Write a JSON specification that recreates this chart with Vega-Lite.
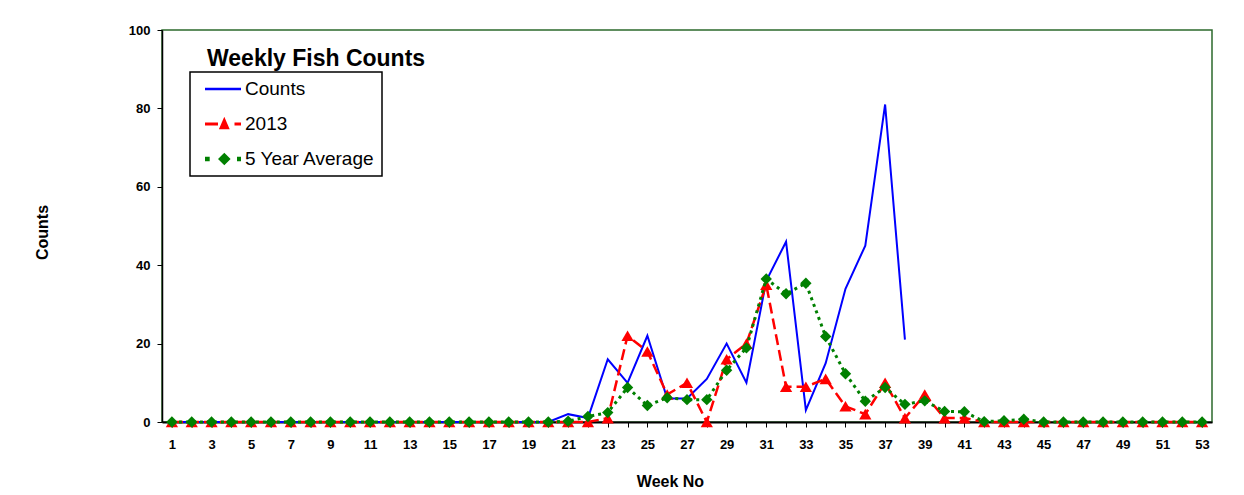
{
  "$schema": "https://vega.github.io/schema/vega-lite/v6.json",
  "width": 1050,
  "height": 392,
  "autosize": {"type": "none"},
  "padding": {"left": 162, "top": 30, "right": 32, "bottom": 73},
  "background": "white",
  "title": {
    "text": "Weekly Fish Counts",
    "anchor": "start",
    "frame": "group",
    "font": "Liberation Sans",
    "fontSize": 23,
    "fontWeight": "bold",
    "color": "black",
    "offset": -65,
    "dx": 45,
    "baseline": "alphabetic"
  },
  "config": {
    "view": {"stroke": "#2d6a2d", "strokeWidth": 1.5},
    "axis": {
      "labelFont": "Liberation Sans",
      "titleFont": "Liberation Sans",
      "labelColor": "black",
      "titleColor": "black",
      "labelFontWeight": "bold",
      "titleFontWeight": "bold",
      "domainColor": "black",
      "tickColor": "black",
      "grid": false
    }
  },
  "data": {
    "values": [
      {"week": 1, "Counts": 0, "2013": 0, "5 Year Average": 0},
      {"week": 2, "Counts": 0, "2013": 0, "5 Year Average": 0},
      {"week": 3, "Counts": 0, "2013": 0, "5 Year Average": 0},
      {"week": 4, "Counts": 0, "2013": 0, "5 Year Average": 0},
      {"week": 5, "Counts": 0, "2013": 0, "5 Year Average": 0},
      {"week": 6, "Counts": 0, "2013": 0, "5 Year Average": 0},
      {"week": 7, "Counts": 0, "2013": 0, "5 Year Average": 0},
      {"week": 8, "Counts": 0, "2013": 0, "5 Year Average": 0},
      {"week": 9, "Counts": 0, "2013": 0, "5 Year Average": 0},
      {"week": 10, "Counts": 0, "2013": 0, "5 Year Average": 0},
      {"week": 11, "Counts": 0, "2013": 0, "5 Year Average": 0},
      {"week": 12, "Counts": 0, "2013": 0, "5 Year Average": 0},
      {"week": 13, "Counts": 0, "2013": 0, "5 Year Average": 0},
      {"week": 14, "Counts": 0, "2013": 0, "5 Year Average": 0},
      {"week": 15, "Counts": 0, "2013": 0, "5 Year Average": 0},
      {"week": 16, "Counts": 0, "2013": 0, "5 Year Average": 0},
      {"week": 17, "Counts": 0, "2013": 0, "5 Year Average": 0},
      {"week": 18, "Counts": 0, "2013": 0, "5 Year Average": 0},
      {"week": 19, "Counts": 0, "2013": 0, "5 Year Average": 0},
      {"week": 20, "Counts": 0, "2013": 0, "5 Year Average": 0},
      {"week": 21, "Counts": 2, "2013": 0, "5 Year Average": 0.2},
      {"week": 22, "Counts": 1, "2013": 0, "5 Year Average": 1.4},
      {"week": 23, "Counts": 16, "2013": 1, "5 Year Average": 2.4},
      {"week": 24, "Counts": 10, "2013": 22, "5 Year Average": 8.8},
      {"week": 25, "Counts": 22, "2013": 18, "5 Year Average": 4.2},
      {"week": 26, "Counts": 6, "2013": 7, "5 Year Average": 6.2},
      {"week": 27, "Counts": 6, "2013": 10, "5 Year Average": 5.7},
      {"week": 28, "Counts": 11, "2013": 0, "5 Year Average": 5.7},
      {"week": 29, "Counts": 20, "2013": 16, "5 Year Average": 13.2},
      {"week": 30, "Counts": 10, "2013": 20, "5 Year Average": 18.9},
      {"week": 31, "Counts": 36, "2013": 35, "5 Year Average": 36.5},
      {"week": 32, "Counts": 46, "2013": 9, "5 Year Average": 32.7},
      {"week": 33, "Counts": 3, "2013": 9, "5 Year Average": 35.4},
      {"week": 34, "Counts": 15, "2013": 11, "5 Year Average": 21.8},
      {"week": 35, "Counts": 34, "2013": 4, "5 Year Average": 12.3},
      {"week": 36, "Counts": 45, "2013": 2, "5 Year Average": 5.3},
      {"week": 37, "Counts": 81, "2013": 10, "5 Year Average": 8.8},
      {"week": 38, "Counts": 21, "2013": 1, "5 Year Average": 4.5},
      {"week": 39, "2013": 7, "5 Year Average": 5.4},
      {"week": 40, "2013": 1, "5 Year Average": 2.7},
      {"week": 41, "2013": 1, "5 Year Average": 2.6},
      {"week": 42, "2013": 0, "5 Year Average": 0.1},
      {"week": 43, "2013": 0, "5 Year Average": 0.3},
      {"week": 44, "2013": 0, "5 Year Average": 0.7},
      {"week": 45, "2013": 0, "5 Year Average": 0},
      {"week": 46, "2013": 0, "5 Year Average": 0},
      {"week": 47, "2013": 0, "5 Year Average": 0},
      {"week": 48, "2013": 0, "5 Year Average": 0},
      {"week": 49, "2013": 0, "5 Year Average": 0},
      {"week": 50, "2013": 0, "5 Year Average": 0},
      {"week": 51, "2013": 0, "5 Year Average": 0},
      {"week": 52, "2013": 0, "5 Year Average": 0},
      {"week": 53, "2013": 0, "5 Year Average": 0}
    ]
  },
  "transform": [
    {"fold": ["Counts", "2013", "5 Year Average"], "as": ["series", "value"]},
    {"filter": "isValid(datum.value)"}
  ],
  "encoding": {
    "x": {
      "field": "week",
      "type": "quantitative",
      "scale": {"domain": [0.5, 53.5], "nice": false, "zero": false},
      "axis": {
        "title": "Week No",
        "values": [1,2,3,4,5,6,7,8,9,10,11,12,13,14,15,16,17,18,19,20,21,22,23,24,25,26,27,28,29,30,31,32,33,34,35,36,37,38,39,40,41,42,43,44,45,46,47,48,49,50,51,52,53],
        "labelExpr": "datum.value % 2 == 1 ? datum.label : ''",
        "labelOverlap": false,
        "labelFlush": false,
        "labelFontSize": 13,
        "labelPadding": 11,
        "tickSize": 5,
        "domainWidth": 2,
        "titleFontSize": 16,
        "titleX": 508,
        "titleY": 59,
        "titleBaseline": "middle",
        "titleAlign": "center"
      }
    },
    "y": {
      "field": "value",
      "type": "quantitative",
      "scale": {"domain": [0, 100], "nice": false},
      "axis": {
        "title": "Counts",
        "values": [0, 20, 40, 60, 80, 100],
        "labelFontSize": 13,
        "labelPadding": 7,
        "tickSize": 5,
        "domainWidth": 1.5,
        "titleFontSize": 16,
        "titleX": -120,
        "titleY": 202,
        "titleAngle": -90,
        "titleBaseline": "middle",
        "titleAlign": "center"
      }
    },
    "color": {
      "field": "series",
      "type": "nominal",
      "scale": {"domain": ["Counts", "2013", "5 Year Average"], "range": ["#0000ff", "#ff0000", "#008000"]},
      "legend": {
        "title": null,
        "orient": "none",
        "legendX": 28,
        "legendY": 42,
        "direction": "vertical",
        "padding": 7,
        "symbolOffset": 16,
        "rowPadding": 15,
        "symbolSize": 400,
        "labelFont": "Liberation Sans",
        "labelFontSize": 19,
        "labelColor": "black",
        "labelOffset": 12,
        "labelExpr": "datum.label + '   '",
        "fillColor": "white",
        "strokeColor": "black",
        "encode": {
          "legend": {"update": {"strokeWidth": {"value": 1.5}}},
          "symbols": {
            "update": {
              "shape": {"signal": "datum.value === 'Counts' ? 'M-1.8,-0.13H1.8V0.13H-1.8Z' : datum.value === '2013' ? 'M-1.8,-0.14H-0.5V0.14H-1.8Z M0.13,-0.72L0.67,0.52H-0.41Z M1.15,-0.14H1.8V0.14H1.15Z' : 'M-1.8,-0.22H-1.33V0.22H-1.8Z M0.13,-0.63L0.76,0L0.13,0.63L-0.5,0Z M1.4,-0.22H1.8V0.22H1.4Z'"},
              "fill": {"signal": "datum.value === 'Counts' ? '#0000ff' : datum.value === '2013' ? '#ff0000' : '#008000'"},
              "stroke": {"value": "transparent"},
              "strokeWidth": {"value": 0},
              "opacity": {"value": 1},
              "fillOpacity": {"value": 1}
            }
          }
        }
      }
    }
  },
  "layer": [
    {
      "transform": [{"filter": "datum.series === 'Counts'"}],
      "mark": {"type": "line", "strokeWidth": 2}
    },
    {
      "transform": [{"filter": "datum.series === '2013'"}],
      "mark": {"type": "line", "strokeWidth": 2.5, "strokeDash": [11, 5]}
    },
    {
      "transform": [{"filter": "datum.series === '2013'"}],
      "mark": {"type": "point", "filled": true, "shape": "triangle-up", "size": 150, "opacity": 1}
    },
    {
      "transform": [{"filter": "datum.series === '5 Year Average'"}],
      "mark": {"type": "line", "strokeWidth": 3, "strokeDash": [3, 4]}
    },
    {
      "transform": [{"filter": "datum.series === '5 Year Average'"}],
      "mark": {"type": "point", "filled": true, "shape": "diamond", "size": 130, "opacity": 1}
    }
  ]
}
